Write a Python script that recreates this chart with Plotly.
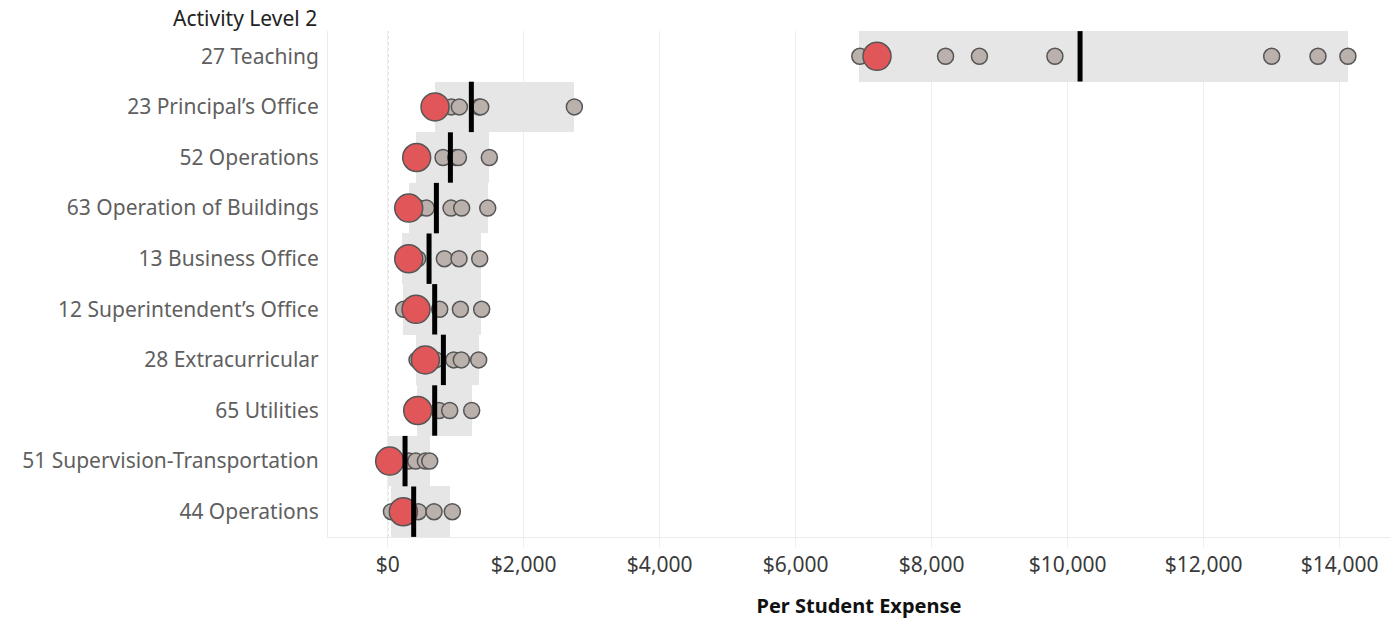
import plotly.graph_objects as go

categories = ["27 Teaching", "23 Principal’s Office", "52 Operations",
              "63 Operation of Buildings", "13 Business Office",
              "12 Superintendent’s Office", "28 Extracurricular", "65 Utilities",
              "51 Supervision-Transportation", "44 Operations"]

band_lo = [6938, 691, 412, 309, 206, 221, 412, 431, 10, 44]
band_hi = [14129, 2745, 1495, 1471, 1368, 1377, 1338, 1235, 618, 922]

gray_values = [
    [6943, 8204, 8702, 9812, 13000, 13681, 14121],
    [936, 1054, 1340, 1368, 2745],
    [814, 1000, 1040, 1495],
    [461, 569, 931, 1088, 1471],
    [441, 833, 1049, 1353],
    [235, 765, 1069, 1382],
    [431, 706, 971, 1083, 1338],
    [755, 912, 1235],
    [309, 412, 554, 618],
    [55, 450, 681, 950],
]

red_values = [7196, 696, 426, 309, 309, 417, 554, 441, 29, 230]
avg_values = [10182, 1230, 922, 716, 608, 691, 819, 691, 255, 382]

tick_vals = [0, 2000, 4000, 6000, 8000, 10000, 12000, 14000]
tick_text = ["$0", "$2,000", "$4,000", "$6,000", "$8,000", "$10,000", "$12,000", "$14,000"]

FONT = "Noto Sans"

fig = go.Figure()

fig.add_trace(go.Bar(
    y=categories,
    x=[h - l for l, h in zip(band_lo, band_hi)],
    base=band_lo,
    orientation="h",
    width=1.0,
    marker=dict(color="#e6e6e6", line=dict(width=0)),
    hoverinfo="skip",
    showlegend=False,
))

gx, gy = [], []
for cat, vals in zip(categories, gray_values):
    for v in vals:
        gx.append(v)
        gy.append(cat)

fig.add_trace(go.Scatter(
    x=gx, y=gy, mode="markers",
    marker=dict(size=16, color="#bab0ac", line=dict(color="#555555", width=1.5)),
    showlegend=False,
))

fig.add_trace(go.Scatter(
    x=red_values, y=categories, mode="markers",
    marker=dict(size=28, color="#e15759", line=dict(color="#555555", width=1.5)),
    showlegend=False,
))

fig.add_trace(go.Scatter(
    x=avg_values, y=categories, mode="markers",
    marker=dict(symbol="line-ns", size=36, color="black", line=dict(color="black", width=5)),
    showlegend=False,
))

fig.add_vline(x=0, line=dict(color="#a8a8a8", width=1.2, dash="3px,3px"), layer="below")

fig.update_layout(
    width=1393, height=619,
    margin=dict(l=328, r=3, t=31, b=82),
    plot_bgcolor="white", paper_bgcolor="white",
    font=dict(family=FONT, color="#333333", size=21),
    bargap=0,
    xaxis=dict(
        range=[-878, 14740],
        tickvals=tick_vals, ticktext=tick_text,
        showgrid=True, gridcolor="#eeeeee", gridwidth=1,
        zeroline=False,
        showline=True, linecolor="#ebebeb", linewidth=1,
        ticks="outside", ticklen=9, tickcolor="#eeeeee",
        tickfont=dict(size=21, color="#3a3a3a", family=FONT),
        title=dict(text="<b>Per Student Expense</b>", font=dict(size=20, color="#111111", family=FONT), standoff=22),
    ),
    yaxis=dict(
        categoryorder="array", categoryarray=categories,
        range=[9.5, -0.5],
        showgrid=False, zeroline=False,
        showline=True, linecolor="#ebebeb", linewidth=1,
        ticks="", ticklabelstandoff=4,
        tickfont=dict(size=21, color="#5f5f5f", family=FONT),
    ),
    annotations=[dict(
        text="Activity Level 2", xref="paper", yref="paper", x=0, y=1,
        xanchor="right", yanchor="middle", xshift=-9, yshift=13, showarrow=False,
        font=dict(size=21, color="#222222", family=FONT),
    )],
)

fig.write_html("out.html", post_script="document.body.style.margin='0';",
               config={"displayModeBar": False})
